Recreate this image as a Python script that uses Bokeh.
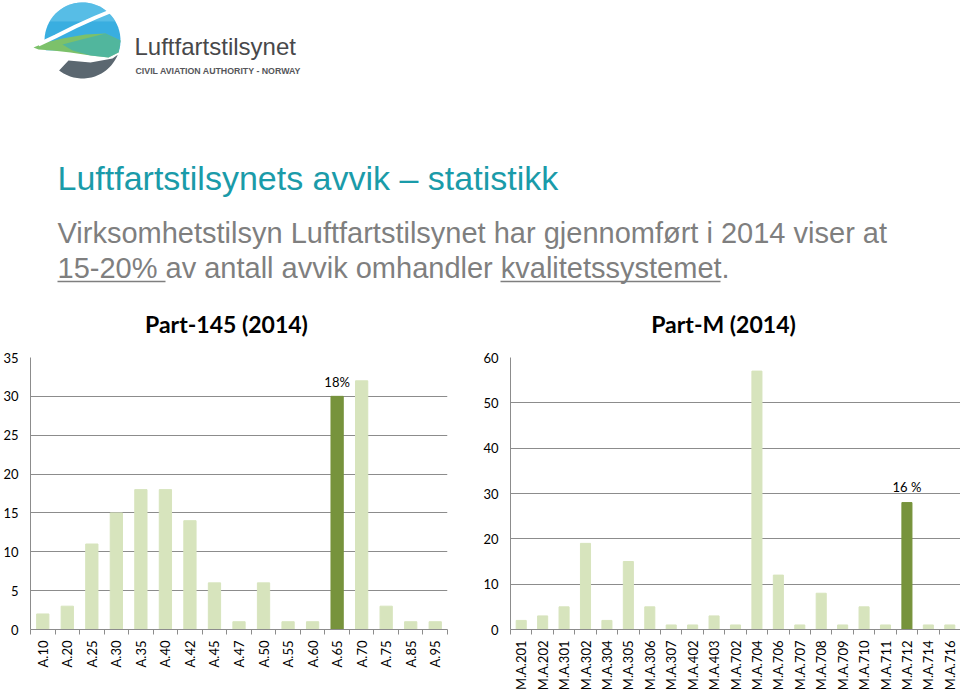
import numpy as np
from bokeh.plotting import figure
from bokeh.layouts import column, row
from bokeh.models import Range1d, FixedTicker, ColumnDataSource
from bokeh.core.properties import value
from bokeh.embed import file_html
from bokeh.resources import INLINE

# ---------------- data ----------------
p145_codes = ["A.10", "A.20", "A.25", "A.30", "A.35", "A.40", "A.42", "A.45", "A.47",
              "A.50", "A.55", "A.60", "A.65", "A.70", "A.75", "A.85", "A.95"]
p145_counts = [2, 3, 11, 15, 18, 18, 14, 6, 1, 6, 1, 1, 30, 32, 3, 1, 1]
p145_highlight = "A.65"
p145_label = "18%"
p145_yticks = [0, 5, 10, 15, 20, 25, 30, 35]

pm_codes = ["M.A.201", "M.A.202", "M.A.301", "M.A.302", "M.A.304", "M.A.305", "M.A.306",
            "M.A.307", "M.A.402", "M.A.403", "M.A.702", "M.A.704", "M.A.706", "M.A.707",
            "M.A.708", "M.A.709", "M.A.710", "M.A.711", "M.A.712", "M.A.714", "M.A.716"]
pm_counts = [2, 3, 5, 19, 2, 15, 5, 1, 1, 3, 1, 57, 12, 1, 8, 1, 5, 1, 28, 1, 1]
pm_highlight = "M.A.712"
pm_label = "16 %"
pm_yticks = [0, 10, 20, 30, 40, 50, 60]

heading = "Luftfartstilsynets avvik – statistikk"
sub_line1 = "Virksomhetstilsyn Luftfartstilsynet har gjennomført i 2014 viser at"
sub_line2 = "15-20% av antall avvik omhandler kvalitetssystemet."
title_145 = "Part-145 (2014)"
title_m = "Part-M (2014)"

LIGHT = "#d7e4bd"
DARK = "#77933c"
GRID = "#8c8c8c"
TICKFONT = "Lato"
SANS = "Liberation Sans"


# ---------------- header ----------------
hdr = figure(width=960, height=340, x_range=Range1d(0, 960), y_range=Range1d(340, 0),
             output_backend="svg", toolbar_location=None, min_border=0)
hdr.axis.visible = False
hdr.grid.visible = False
hdr.outline_line_color = None


def arc(cx, cy, r, a0, a1, n=40):
    t = np.radians(np.linspace(a0, a1, n))
    return list(cx + r * np.cos(t)), list(cy - r * np.sin(t))

# logo: blue upper cap
bx, by = arc(82, 40, 38, 195, -18)
hdr.patch(bx, by, fill_color="#39aee0", line_color=None)
tx, ty = arc(82, 40, 38, 150, 30)
hdr.patch(tx, ty, fill_color="#6cc6ea", line_color=None, fill_alpha=0.6)
# green swoosh
gx = [33, 45, 62, 85, 105, 120, 118, 108, 90, 70, 52, 38]
gy = [47, 42, 38, 34, 33, 40, 52, 57, 55, 52, 50, 49]
hdr.patch(gx, gy, fill_color="#7cc16a", line_color=None)
g2x = [62, 85, 105, 120, 118, 108, 90, 72]
g2y = [44, 38, 33, 40, 52, 57, 55, 50]
hdr.patch(g2x, g2y, fill_color="#3fb1b4", line_color=None, fill_alpha=0.7)
# white swoosh line
hdr.line([38, 55, 75, 95, 112], [44, 36, 26, 17, 10], line_color="white", line_width=4)
# grey bottom
dx, dy = arc(82, 40, 38, -22, -128)
dx = dx + [68, 90, 112]
dy = dy + [60, 62, 58]
hdr.patch(dx, dy, fill_color="#5b6770", line_color=None)

hdr.text(x=[134], y=[46], text=["Luftfartstilsynet"], text_font=value(SANS),
         text_font_size="24px", text_color="#48484a", text_baseline="middle")
hdr.text(x=[135], y=[70], text=["CIVIL AVIATION AUTHORITY - NORWAY"],
         text_font=value(SANS), text_font_style="bold",
         text_font_size="8.8px", text_color="#55565a", text_baseline="middle")

hdr.text(x=[57], y=[177], text=[heading], text_font=value(SANS),
         text_font_size="34px", text_color="#1a9ba9", text_baseline="middle")
hdr.text(x=[57, 57], y=[232, 267], text=[sub_line1, sub_line2],
         text_font=value(SANS), text_font_size="29px",
         text_color="#7f7f7f", text_baseline="middle")
hdr.segment(x0=[57, 500], y0=[281, 281], x1=[165, 720], y1=[281, 281],
            line_color="#7f7f7f", line_width=1.5)

hdr.text(x=[226, 723], y=[323, 323], text=[title_145, title_m], text_font=value(TICKFONT),
         text_font_style="bold", text_font_size="23px", text_color="#000000",
         text_align="center", text_baseline="middle")


# ---------------- charts ----------------
def bar_chart(codes, counts, highlight, label, yticks, width, bl, br, bt, bar_w, lab_off):
    n = len(codes)
    xs = [i + 0.5 for i in range(n)]
    colors = [DARK if c == highlight else LIGHT for c in codes]
    src = ColumnDataSource(dict(x=xs, top=counts, color=colors, code=codes))
    p = figure(width=width, height=353, x_range=Range1d(0, n),
               y_range=Range1d(yticks[0], yticks[-1]),
               output_backend="svg", toolbar_location=None,
               min_border_left=bl, min_border_right=br, min_border_top=bt,
               min_border_bottom=61)
    p.outline_line_color = None
    p.xgrid.visible = False
    p.ygrid.grid_line_color = GRID
    p.ygrid.grid_line_width = 1
    p.ygrid.ticker = FixedTicker(ticks=yticks)
    p.vbar(x="x", top="top", width=bar_w, color="color", source=src)

    idx = codes.index(highlight)
    p.text(x=[xs[idx]], y=[counts[idx]], text=[label], y_offset=lab_off,
           text_align="center", text_baseline="bottom", text_font=value(TICKFONT),
           text_font_size="13px", text_color="#000000")

    xa = p.xaxis[0]
    xa.ticker = FixedTicker(ticks=xs, minor_ticks=list(range(n + 1)))
    xa.major_label_overrides = {x: c for x, c in zip(xs, codes)}
    xa.major_label_orientation = np.pi / 2
    xa.major_tick_out = 0
    xa.major_tick_in = 0
    xa.minor_tick_out = 5
    xa.minor_tick_in = 0
    xa.minor_tick_line_color = GRID
    xa.axis_line_color = GRID
    xa.major_label_standoff = 6
    xa.major_label_text_font = TICKFONT
    xa.major_label_text_font_size = "13px"
    xa.major_label_text_color = "#000000"

    ya = p.yaxis[0]
    ya.ticker = FixedTicker(ticks=yticks)
    ya.major_tick_out = 0
    ya.major_tick_in = 0
    ya.minor_tick_out = 0
    ya.minor_tick_in = 0
    ya.axis_line_color = GRID
    ya.major_label_standoff = 12
    ya.major_label_text_font = TICKFONT
    ya.major_label_text_font_size = "13px"
    ya.major_label_text_color = "#000000"
    return p


left = bar_chart(p145_codes, p145_counts, p145_highlight, p145_label, p145_yticks,
                 480, 27, 33, 16, 0.5, -6)
right = bar_chart(pm_codes, pm_counts, pm_highlight, pm_label, pm_yticks,
                  480, 29, 0, 17, 0.47, -8)

layout = column(hdr, row(left, right, spacing=0), spacing=0)
open("out.html", "w").write(file_html(layout, INLINE))
